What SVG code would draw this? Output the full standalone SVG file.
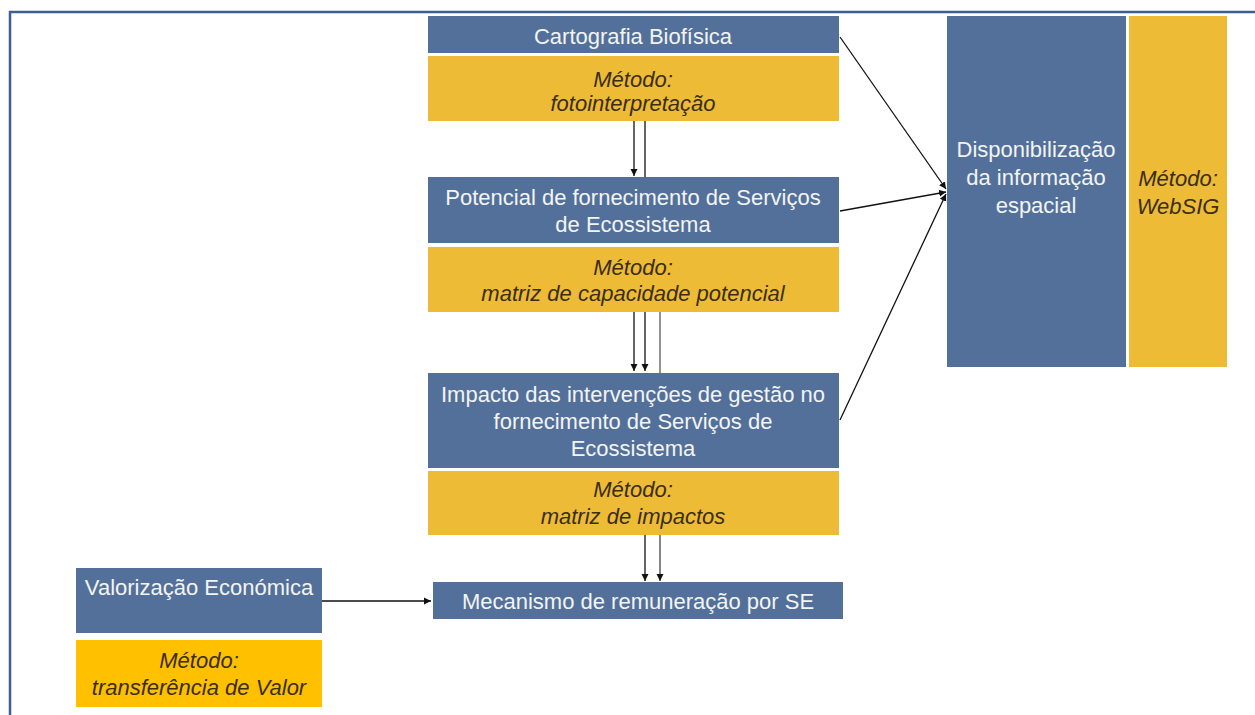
<svg xmlns="http://www.w3.org/2000/svg" width="1255" height="715" viewBox="0 0 1255 715">
<style>
.bg{fill:#ffffff}
.frame{fill:none;stroke:#3F5D90;stroke-width:2.5}
.blue{fill:#52709A}
.yel{fill:#EEBB37}
.yel2{fill:#FFC000}
.t{font-family:"Liberation Sans",Arial,sans-serif;font-size:22px;fill:#F4F4F4;text-anchor:middle}
.m{font-family:"Liberation Sans",Arial,sans-serif;font-size:22px;font-style:italic;fill:#3A2E12;text-anchor:middle}
.c{fill:none;stroke:#111111;stroke-width:1.3}
.g{fill:none;stroke:#6E6E6E;stroke-width:1.5}
</style>
<defs>
<marker id="ah" markerWidth="8" markerHeight="8" refX="7" refY="4" orient="auto" markerUnits="userSpaceOnUse">
<path d="M0,0.5 L7,4 L0,7.5 Z" fill="#111111"/>
</marker>
</defs>
<rect class="bg" x="0" y="0" width="1255" height="715"/>
<path class="frame" d="M10,715 L10,12 L1255,12"/>

<g id="connectors">
<line class="c" x1="634" y1="121" x2="634" y2="176" marker-end="url(#ah)"/>
<line class="c" x1="645" y1="121" x2="645" y2="177"/>
<line class="c" x1="634" y1="312" x2="634" y2="371" marker-end="url(#ah)"/>
<line class="c" x1="645" y1="312" x2="645" y2="371" marker-end="url(#ah)"/>
<line class="g" x1="660" y1="312" x2="660" y2="373"/>
<line class="c" x1="645" y1="535" x2="645" y2="581" marker-end="url(#ah)"/>
<line class="c" x1="660" y1="535" x2="660" y2="581" marker-end="url(#ah)" style="stroke:#444"/>
<line class="c" x1="322" y1="601" x2="431" y2="601" marker-end="url(#ah)"/>
<line class="c" x1="840" y1="37" x2="946" y2="189" marker-end="url(#ah)"/>
<line class="c" x1="840" y1="211" x2="946" y2="192" marker-end="url(#ah)"/>
<line class="c" x1="840" y1="420" x2="946" y2="194" marker-end="url(#ah)"/>
</g>

<g id="cartografia">
<rect class="blue" x="428" y="16" width="411" height="37"/>
<text class="t" x="633" y="44">Cartografia Biofísica</text>
<rect class="yel" x="428" y="56" width="411" height="65"/>
<text class="m" x="633" y="87">Método:</text>
<text class="m" x="633" y="111">fotointerpretação</text>
</g>

<g id="potencial">
<rect class="blue" x="428" y="177" width="411" height="66"/>
<text class="t" x="633" y="205">Potencial de fornecimento de Serviços</text>
<text class="t" x="633" y="232">de Ecossistema</text>
<rect class="yel" x="428" y="247" width="411" height="65"/>
<text class="m" x="633" y="275">Método:</text>
<text class="m" x="633" y="301">matriz de capacidade potencial</text>
</g>

<g id="impacto">
<rect class="blue" x="428" y="373" width="411" height="95"/>
<text class="t" x="633" y="402">Impacto das intervenções de gestão no</text>
<text class="t" x="633" y="429">fornecimento de Serviços de</text>
<text class="t" x="633" y="456">Ecossistema</text>
<rect class="yel" x="428" y="471" width="411" height="64"/>
<text class="m" x="633" y="497">Método:</text>
<text class="m" x="633" y="524">matriz de impactos</text>
</g>

<g id="mecanismo">
<rect class="blue" x="433" y="582" width="410" height="37"/>
<text class="t" x="638" y="609">Mecanismo de remuneração por SE</text>
</g>

<g id="valorizacao">
<rect class="blue" x="76" y="568" width="246" height="65"/>
<text class="t" x="199" y="595">Valorização Económica</text>
<rect class="yel2" x="76" y="640" width="246" height="67"/>
<text class="m" x="199" y="668">Método:</text>
<text class="m" x="199" y="695">transferência de Valor</text>
</g>

<g id="disponibilizacao">
<rect class="blue" x="947" y="16" width="179" height="351"/>
<text class="t" x="1036" y="157">Disponibilização</text>
<text class="t" x="1036" y="185">da informação</text>
<text class="t" x="1036" y="213">espacial</text>
<rect class="yel" x="1129" y="16" width="98" height="351"/>
<text class="m" x="1178" y="186">Método:</text>
<text class="m" x="1178" y="214">WebSIG</text>
</g>
</svg>
